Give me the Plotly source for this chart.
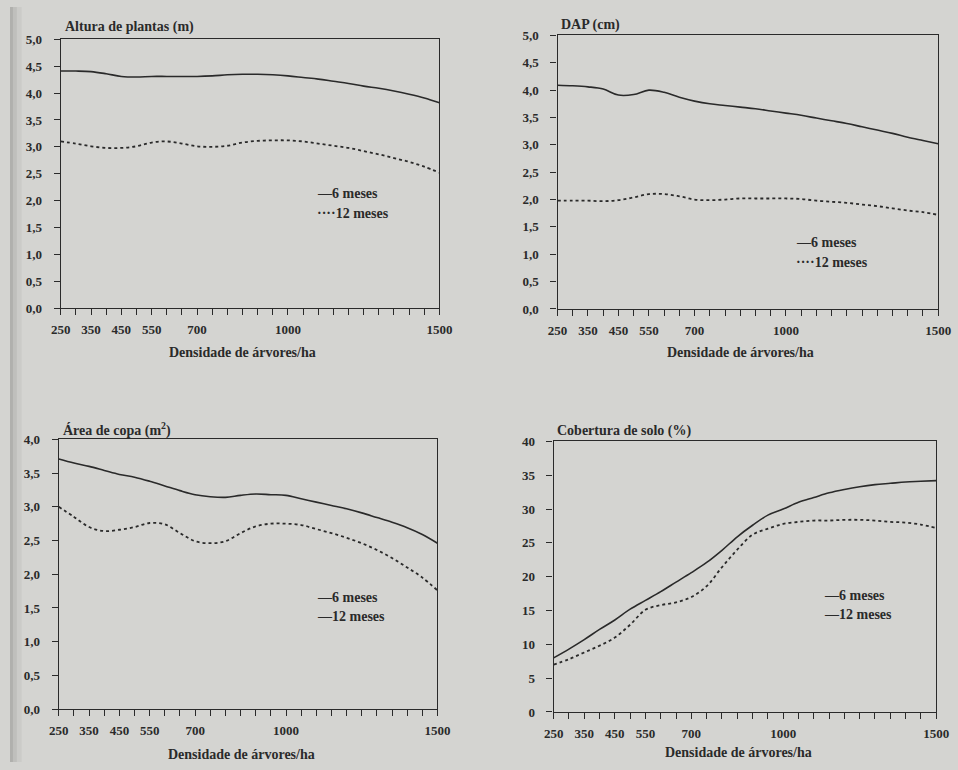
import plotly.graph_objects as go

# Tree density (trees/ha)
densidade = [250, 300, 350, 400, 450, 500, 550, 600, 650, 700, 750, 800, 850,
             900, 950, 1000, 1050, 1100, 1150, 1200, 1250, 1300, 1350, 1400, 1450, 1500]
x_ticklabels = [250, 350, 450, 550, 700, 1000, 1500]

# Plant height (m)
altura_6 = [4.41, 4.41, 4.40, 4.36, 4.31, 4.30, 4.31, 4.31, 4.31, 4.31, 4.32, 4.34, 4.35,
            4.35, 4.34, 4.32, 4.29, 4.26, 4.22, 4.18, 4.13, 4.09, 4.04, 3.98, 3.91, 3.82]
altura_12 = [3.10, 3.06, 3.01, 2.98, 2.98, 3.01, 3.08, 3.10, 3.06, 3.01, 3.00, 3.02, 3.08,
             3.11, 3.12, 3.12, 3.10, 3.06, 3.02, 2.98, 2.92, 2.86, 2.79, 2.72, 2.63, 2.52]

# DAP (cm)
dap_6 = [4.09, 4.08, 4.06, 4.02, 3.91, 3.92, 4.00, 3.96, 3.87, 3.80, 3.75, 3.72, 3.69,
         3.66, 3.62, 3.58, 3.54, 3.49, 3.44, 3.39, 3.33, 3.27, 3.21, 3.14, 3.08, 3.02]
dap_12 = [1.98, 1.98, 1.98, 1.97, 1.99, 2.04, 2.10, 2.10, 2.06, 2.00, 1.99, 2.00, 2.02,
          2.02, 2.02, 2.02, 2.01, 1.98, 1.96, 1.94, 1.91, 1.88, 1.84, 1.80, 1.77, 1.72]

# Crown area (m2)
copa_6 = [3.71, 3.65, 3.60, 3.54, 3.48, 3.44, 3.38, 3.31, 3.24, 3.18, 3.15, 3.14, 3.17,
          3.19, 3.18, 3.17, 3.12, 3.07, 3.02, 2.97, 2.91, 2.84, 2.77, 2.69, 2.59, 2.46]
copa_12 = [3.00, 2.85, 2.70, 2.64, 2.66, 2.70, 2.76, 2.74, 2.61, 2.49, 2.46, 2.49, 2.61,
           2.71, 2.75, 2.75, 2.73, 2.67, 2.61, 2.54, 2.46, 2.36, 2.24, 2.10, 1.95, 1.76]

# Ground cover (%)
solo_6 = [8.0, 9.3, 10.7, 12.2, 13.6, 15.2, 16.5, 17.8, 19.2, 20.6, 22.1, 23.9, 25.9,
          27.6, 29.1, 30.0, 31.0, 31.7, 32.4, 32.9, 33.3, 33.6, 33.8, 34.0, 34.1, 34.2]
solo_12 = [7.0, 7.8, 8.8, 9.8, 11.0, 12.9, 15.1, 15.8, 16.2, 17.0, 18.6, 21.4, 24.0,
           26.2, 27.1, 27.8, 28.1, 28.3, 28.3, 28.4, 28.4, 28.3, 28.1, 28.0, 27.7, 27.2]

W, H = 958, 770
FONT = "Liberation Serif"
INK = "#2a2a2a"
BG = "#d4d4d1"


def px(x):
    return x / W


def py(y):
    return 1 - y / H


# panel boxes in pixels: left, right, top, bottom
panels = [
    dict(box=(52, 440, 33, 307), s6=altura_6, s12=altura_12, ymax=5, dy=0.5, fmt=".1f",
         title="Altura de plantas (m)", tpos=(54, 20), xt=(238, 352),
         leg=(313, 190, 211), leg12="\u00b7\u00b7\u00b7\u00b712 meses"),
    dict(box=(561, 951, 29, 308), s6=dap_6, s12=dap_12, ymax=5, dy=0.5, fmt=".1f",
         title="DAP (cm)", tpos=(562, 18), xt=(748, 352),
         leg=(803, 240, 261), leg12="\u00b7\u00b7\u00b7\u00b712 meses"),
    dict(box=(50, 438, 441, 716), s6=copa_6, s12=copa_12, ymax=4, dy=0.5, fmt=".1f",
         title="Área de copa (m<sup>2</sup>)", tpos=(52, 431), xt=(237, 762),
         leg=(312, 602, 622), leg12="\u201412 meses"),
    dict(box=(557, 949, 443, 719), s6=solo_6, s12=solo_12, ymax=40, dy=5, fmt="d",
         title="Cobertura de solo (%)", tpos=(558, 432), xt=(746, 760),
         leg=(832, 600, 620), leg12="\u201412 meses"),
]

fig = go.Figure()
annotations = []
layout_axes = {}
TXT = dict(family=FONT, size=14, color=INK, weight="bold")
TICKS = dict(family=FONT, size=13, color=INK, weight="bold")

for i, p in enumerate(panels, start=1):
    sx = "" if i == 1 else str(i)
    xname, yname = "x" + sx, "y" + sx
    l, r, t, b = p["box"]

    fig.add_trace(go.Scatter(x=densidade, y=p["s6"], xaxis=xname, yaxis=yname,
                             mode="lines", line=dict(color=INK, width=1.6, shape="spline"),
                             showlegend=False, hoverinfo="skip"))
    fig.add_trace(go.Scatter(x=densidade, y=p["s12"], xaxis=xname, yaxis=yname,
                             mode="lines", line=dict(color=INK, width=1.8, dash="dot", shape="spline"),
                             showlegend=False, hoverinfo="skip"))

    layout_axes["xaxis" + sx] = dict(
        domain=[px(l), px(r)], anchor=yname, range=[250, 1500],
        tickvals=x_ticklabels, ticks="outside", ticklen=6, tickwidth=1.2, tickcolor=INK,
        minor=dict(tick0=250, dtick=50, ticks="outside", ticklen=6, tickwidth=1.2, tickcolor=INK),
        showline=True, linecolor=INK, linewidth=1.3, mirror=True,
        showgrid=False, zeroline=False, ticklabelstandoff=3,
        tickfont=TICKS,
    )
    layout_axes["yaxis" + sx] = dict(
        domain=[py(b), py(t)], anchor=xname, range=[0, p["ymax"]],
        tick0=0, dtick=p["dy"], tickformat=p["fmt"],
        ticks="outside", ticklen=6, tickwidth=1.2, tickcolor=INK, ticklabelstandoff=9,
        showline=True, linecolor=INK, linewidth=1.3, mirror=True,
        showgrid=False, zeroline=False,
        tickfont=TICKS,
    )

    tx, ty = p["tpos"]
    annotations.append(dict(x=px(tx), y=py(ty), xref="paper", yref="paper",
                            text=p["title"], showarrow=False, xanchor="left", yanchor="middle",
                            font=TXT))
    cx, cy = p["xt"]
    annotations.append(dict(x=px(cx), y=py(cy), xref="paper", yref="paper",
                            text="Densidade de árvores/ha", showarrow=False,
                            xanchor="center", yanchor="middle", font=TXT))
    lx, ly6, ly12 = p["leg"]
    annotations.append(dict(x=px(lx), y=py(ly6), xref="paper", yref="paper",
                            text="\u20146 meses", showarrow=False, xanchor="left", yanchor="middle",
                            font=TXT))
    annotations.append(dict(x=px(lx), y=py(ly12), xref="paper", yref="paper",
                            text=p["leg12"], showarrow=False, xanchor="left", yanchor="middle",
                            font=TXT))

# soft shading along the left page edge
shapes = []
for w, a in [(12, 0.04), (7, 0.06), (3, 0.08)]:
    shapes.append(dict(type="rect", xref="paper", yref="paper", x0=0, x1=px(w), y0=0, y1=1,
                       fillcolor="rgba(0,0,0,%s)" % a, line=dict(width=0), layer="below"))

fig.update_layout(
    width=W, height=H, margin=dict(l=0, r=0, t=0, b=0),
    paper_bgcolor=BG, plot_bgcolor="rgba(0,0,0,0)",
    separators=",.",
    annotations=annotations, shapes=shapes,
    **layout_axes,
)

fig.write_html("out.html")
